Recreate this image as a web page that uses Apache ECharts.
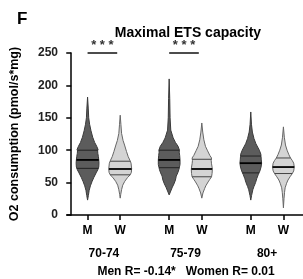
<!DOCTYPE html>
<html>
<head>
<meta charset="utf-8">
<script src="https://cdn.jsdelivr.net/npm/echarts@6/dist/echarts.min.js"></script>
<style>
  html, body { margin: 0; padding: 0; background: #fff; }
  #chart { width: 303px; height: 279px; }
</style>
</head>
<body>
<div id="chart"></div>
<script>
// age groups and sexes
const groups = ['70-74', '75-79', '80+']
const sexes = ['M', 'W']

// violin outlines: [value, relative density]
const profileM1 = [[182, 0], [165, 0.06], [150, 0.1], [140, 0.18], [130, 0.3], [120, 0.45], [112, 0.62], [106, 0.8], [101, 0.92], [99, 0.88], [95, 0.9], [90, 0.95], [85, 0.98], [80, 1], [74, 0.98], [70, 0.9], [65, 0.75], [58, 0.55], [52, 0.4], [45, 0.25], [38, 0.14], [30, 0.07], [23, 0]]
const profileW1 = [[154, 0], [140, 0.06], [126, 0.12], [115, 0.25], [108, 0.38], [98, 0.55], [90, 0.7], [84, 0.86], [80, 0.95], [72, 1], [66, 0.98], [62, 0.88], [58, 0.65], [52, 0.4], [46, 0.22], [39, 0.12], [32, 0.05], [26, 0]]
const profileM2 = [[210, 0], [180, 0.05], [150, 0.08], [131, 0.14], [119, 0.35], [112, 0.55], [106, 0.78], [100, 0.9], [97, 0.88], [92, 0.92], [85, 0.95], [78, 0.95], [74, 0.9], [70, 0.85], [65, 0.75], [60, 0.62], [54, 0.55], [48, 0.42], [43, 0.28], [37, 0.14], [31, 0]]
const profileW2 = [[142, 0], [128, 0.08], [116, 0.18], [106, 0.32], [100, 0.48], [92, 0.7], [88, 0.85], [84, 0.82], [79, 0.85], [74, 0.9], [70, 0.92], [64, 0.9], [59, 0.85], [55, 0.7], [51, 0.55], [45, 0.35], [41, 0.25], [34, 0.1], [26, 0]]
const profileM3 = [[159, 0], [140, 0.06], [128, 0.14], [118, 0.28], [110, 0.45], [100, 0.75], [94, 0.88], [90, 0.9], [85, 0.92], [80, 0.95], [74, 0.9], [68, 0.8], [62, 0.65], [56, 0.52], [50, 0.42], [44, 0.28], [39, 0.18], [30, 0.07], [23, 0]]
const profileW3 = [[136, 0], [120, 0.08], [108, 0.18], [100, 0.32], [93, 0.48], [88, 0.62], [84, 0.78], [80, 0.9], [74, 0.95], [68, 0.9], [64, 0.78], [59, 0.58], [54, 0.4], [49, 0.28], [42, 0.15], [35, 0.1], [25, 0.05], [11, 0]]

// quartiles [q1, median, q3]
const quartM1 = [72, 85, 100]
const quartW1 = [62, 71, 83]
const quartM2 = [73, 85, 100]
const quartW2 = [59, 71, 86]
const quartM3 = [65, 80, 91]
const quartW3 = [64, 74, 88]

// significance between M and W per group
const sigLabels = ['***', '***', '']
const sigLevel = 250

const yTicks = [0, 50, 100, 150, 200, 250]
const footer = 'Men R= -0.14*   Women R= 0.01'

const profiles = [profileM1, profileW1, profileM2, profileW2, profileM3, profileW3]
const quartiles = [quartM1, quartW1, quartM2, quartW2, quartM3, quartW3]

// x slot for each violin: groups 5 slots apart, W two slots after M
const slotOf = (g, s) => g * 5 + s * 2 + 1
const violins = []
groups.forEach((g, gi) => {
  sexes.forEach((s, si) => {
    violins.push({ x: slotOf(gi, si), sex: s, idx: violins.length })
  })
})
const slotLabels = {}
violins.forEach(v => { slotLabels[v.x] = v.sex })
const groupPos = groups.map((g, gi) => slotOf(gi, 0) + 1)
const groupLabels = {}
groupPos.forEach((p, i) => { groupLabels[p] = groups[i] })

const font = 'Liberation Sans, Arial, sans-serif'

const densityAt = (prof, v) => {
  for (let i = 0; i < prof.length - 1; i++) {
    const a = prof[i], b = prof[i + 1]
    if (v <= a[0] && v >= b[0]) {
      const t = (a[0] - v) / (a[0] - b[0])
      return a[1] + (b[1] - a[1]) * t
    }
  }
  return 0
}

const renderViolin = (params, api) => {
  const x = api.value(0)
  const i = api.value(1)
  const prof = profiles[i]
  const q = quartiles[i]
  const isM = violins[i].sex === 'M'
  const half = api.size([1, 0])[0] * 0.7
  const cx = api.coord([x, 0])[0]
  const right = prof.map(p => [cx + p[1] * half, api.coord([x, p[0]])[1]])
  const left = prof.slice().reverse().map(p => [cx - p[1] * half, api.coord([x, p[0]])[1]])
  const children = [{
    type: 'polygon',
    shape: { points: right.concat(left) },
    style: { fill: isM ? '#5c5c5c' : '#d4d4d4', stroke: isM ? '#3a3a3a' : '#666', lineWidth: 1 }
  }]
  q.forEach((v, k) => {
    const w = densityAt(prof, v) * half
    const y = api.coord([x, v])[1]
    children.push({
      type: 'line',
      shape: { x1: cx - w, y1: y, x2: cx + w, y2: y },
      style: { stroke: k === 1 ? '#000' : (isM ? '#222' : '#444'), lineWidth: k === 1 ? 1.8 : 1 }
    })
  })
  return { type: 'group', children }
}

const renderSig = (params, api) => {
  const p1 = api.coord([api.value(0), api.value(2)])
  const p2 = api.coord([api.value(1), api.value(2)])
  return {
    type: 'group',
    children: [
      { type: 'line', shape: { x1: p1[0], y1: p1[1], x2: p2[0] - 3, y2: p2[1] }, style: { stroke: '#111', lineWidth: 1.5 } },
      {
        type: 'text',
        style: {
          x: (p1[0] + p2[0] - 3) / 2, y: p1[1] - 1,
          text: '* * *', fill: '#333', font: 'bold 13px ' + font,
          align: 'center', verticalAlign: 'bottom'
        }
      }
    ]
  }
}

const chart = echarts.init(document.getElementById('chart'))

const labelStyle = { fontFamily: font, fontWeight: 'bold', fontSize: 12, color: '#000' }

const option = {
  animation: false,
  title: [
    { text: 'F', left: 12, top: 6, textStyle: { fontFamily: font, fontWeight: 'bold', fontSize: 17, color: '#000' } },
    { text: 'Maximal ETS capacity', left: 183, textAlign: 'center', top: 21, textStyle: { fontFamily: font, fontWeight: 'bold', fontSize: 14, color: '#000' } },
    { text: footer, left: 181, textAlign: 'center', top: 261, textStyle: { fontFamily: font, fontWeight: 'bold', fontSize: 12, color: '#000' } }
  ],
  grid: { left: 62, right: 0, top: 53, bottom: 64 },
  xAxis: [
    {
      type: 'value', min: -0.26, max: 14.2,
      axisLine: { show: true, lineStyle: { color: '#000', width: 1.5 } },
      axisTick: { show: true, length: 5, customValues: violins.map(v => v.x), lineStyle: { color: '#000', width: 1.5 } },
      axisLabel: Object.assign({
        customValues: violins.map(v => v.x), margin: 10,
        formatter: v => slotLabels[v] || ''
      }, labelStyle),
      splitLine: { show: false }
    },
    {
      type: 'value', min: -0.26, max: 14.2, position: 'bottom', offset: 27,
      axisLine: { show: false }, axisTick: { show: false },
      axisLabel: Object.assign({
        customValues: groupPos, margin: 6,
        formatter: v => groupLabels[v] || ''
      }, labelStyle),
      splitLine: { show: false }
    }
  ],
  yAxis: {
    type: 'value', min: 0, max: 250, interval: 50,
    name: 'O2 consumption (pmol/s*mg)', nameLocation: 'middle', nameGap: 46,
    nameTextStyle: { fontFamily: font, fontWeight: 'bold', fontSize: 12.5, color: '#000' },
    axisLine: { show: true, lineStyle: { color: '#000', width: 1.5 } },
    axisTick: { show: true, length: 5, lineStyle: { color: '#000', width: 1.5 } },
    axisLabel: Object.assign({ margin: 9 }, labelStyle, { color: '#222' }),
    splitLine: { show: false }
  },
  series: [
    {
      type: 'custom',
      renderItem: renderViolin,
      data: violins.map(v => [v.x, v.idx]),
      encode: { x: 0, y: 1 },
      clip: false
    },
    {
      type: 'custom',
      renderItem: renderSig,
      data: groups.map((g, gi) => [slotOf(gi, 0), slotOf(gi, 1), sigLevel, sigLabels[gi]]).filter(d => d[3]),
      encode: { x: [0, 1], y: 2 },
      clip: false
    }
  ]
}

chart.setOption(option)
</script>
</body>
</html>
